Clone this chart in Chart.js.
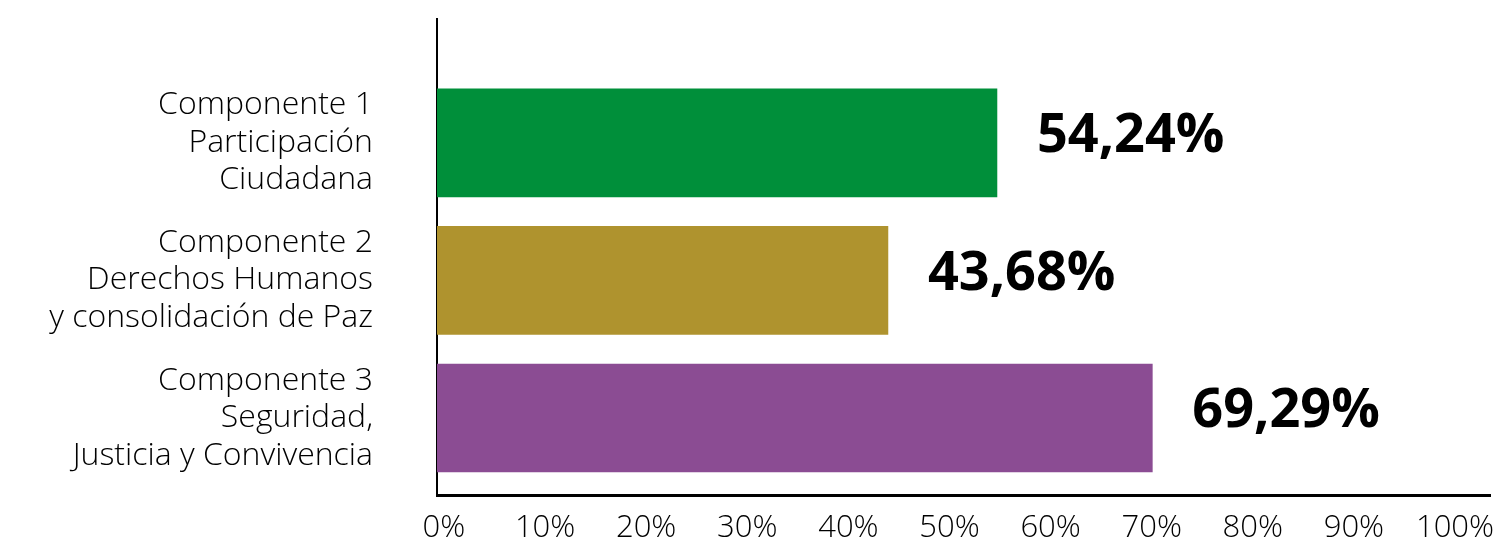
<!DOCTYPE html>
<html>
<head>
<meta charset="utf-8">
<script src="https://cdn.jsdelivr.net/npm/chart.js@4.4.1/dist/chart.umd.min.js"></script>
<style>
    html, body { margin: 0; padding: 0; background: #ffffff; }
    #wrap { width: 1496px; height: 546px; position: relative; }
</style>
</head>
<body>
<div id="wrap"><canvas id="componentesChart"></canvas></div>
<script>
    const categorias = [
        ['Componente 1', 'Participación', 'Ciudadana'],
        ['Componente 2', 'Derechos Humanos', 'y consolidación de Paz'],
        ['Componente 3', 'Seguridad,', 'Justicia y Convivencia'],
    ];
    const valores = [54.24, 43.68, 69.29];
    const colores = ['#008f3a', '#af932e', '#8b4c93'];
    const ticksX = [0, 10, 20, 30, 40, 50, 60, 70, 80, 90, 100];

    function formatoPct(v) {
        return v.toFixed(2).replace('.', ',') + '%';
    }

    // etiquetas de valor a la derecha de cada barra
    const valueLabels = {
        id: 'valueLabels',
        afterDatasetsDraw(chart) {
            const ctx = chart.ctx;
            const meta = chart.getDatasetMeta(0);
            ctx.save();
            ctx.font = 'bold 54px "Open Sans", sans-serif';
            ctx.fillStyle = '#000000';
            ctx.textAlign = 'left';
            ctx.textBaseline = 'middle';
            meta.data.forEach((bar, i) => {
                ctx.fillText(formatoPct(valores[i]), bar.x + 40, bar.y - 6);
            });
            ctx.restore();
        },
    };

    document.addEventListener('DOMContentLoaded', () => {
        const canvas = document.getElementById('componentesChart');

        new Chart(canvas.getContext('2d'), {
            type: 'bar',
            data: {
                datasets: [
                    {
                        data: valores.map((v, i) => ({ x: v, y: i })),
                        backgroundColor: colores,
                        borderWidth: 0,
                        barThickness: 108,
                    },
                ],
            },
            options: {
                indexAxis: 'y',
                responsive: true,
                maintainAspectRatio: false,
                animation: false,
                layout: {
                    padding: { top: 19, right: 6, bottom: 0, left: 0 },
                },
                plugins: {
                    legend: { display: false },
                    tooltip: { enabled: false },
                },
                scales: {
                    // escala de las barras (sin dibujar)
                    x: {
                        type: 'linear',
                        display: false,
                        min: 0,
                        max: 102,
                    },
                    // eje de etiquetas, un poco mas apretado que el de las barras
                    xl: {
                        type: 'linear',
                        position: 'bottom',
                        axis: 'x',
                        min: -0.69,
                        max: 103.46,
                        afterBuildTicks(scale) {
                            scale.ticks = ticksX.map((v) => ({ value: v }));
                        },
                        afterFit(scale) {
                            scale.height = 51;
                            scale.paddingLeft = 0;
                            scale.paddingRight = 0;
                        },
                        grid: { display: false, drawTicks: false },
                        border: { display: true, color: '#000000', width: 3 },
                        ticks: {
                            padding: 15,
                            color: '#000000',
                            maxRotation: 0,
                            autoSkip: false,
                            font: { family: '"Open Sans", sans-serif', size: 31, weight: '300' },
                            callback: (v) => v + '%',
                        },
                    },
                    y: {
                        type: 'linear',
                        reverse: true,
                        offset: false,
                        min: -0.9,
                        max: 2.56,
                        afterBuildTicks(scale) {
                            scale.ticks = categorias.map((c, i) => ({ value: i }));
                        },
                        afterFit(scale) {
                            scale.width = 437;
                            scale.paddingTop = 0;
                            scale.paddingBottom = 0;
                        },
                        grid: { display: false, drawTicks: false },
                        border: { display: true, color: '#000000', width: 2 },
                        ticks: {
                            padding: 64,
                            color: '#000000',
                            autoSkip: false,
                            font: { family: '"Open Sans", sans-serif', size: 32, weight: '300', lineHeight: 1.17 },
                            callback: (v) => categorias[v],
                        },
                    },
                },
            },
            plugins: [valueLabels],
        });
    });
</script>
</body>
</html>
